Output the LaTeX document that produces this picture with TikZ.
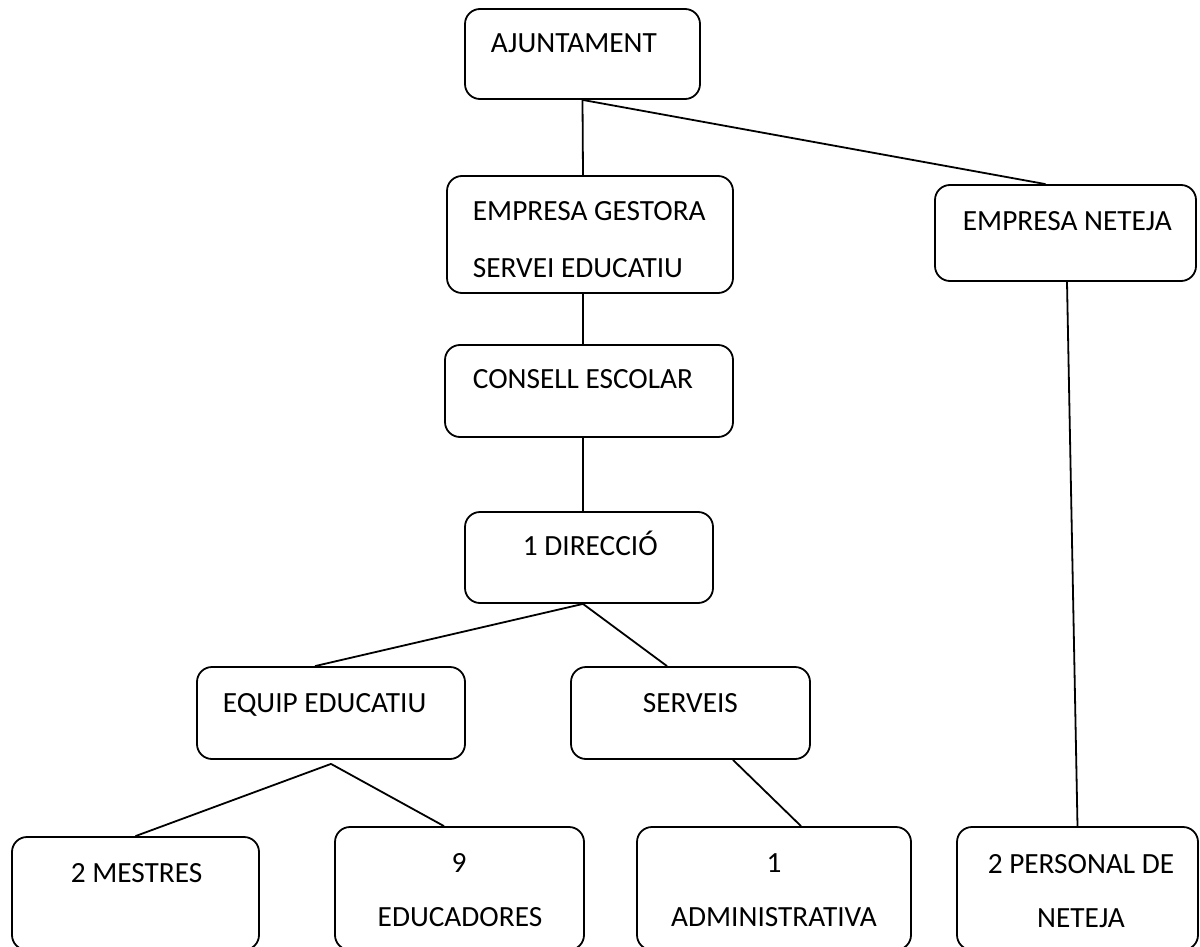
\documentclass[tikz,border=0pt]{standalone}
\usepackage{fontspec}
\setmainfont{Carlito}
\usepackage{tikz}

\begin{document}
\begin{tikzpicture}[x=1pt, y=-1pt, line width=1.8pt,
    box/.style={draw, shape=rectangle, rounded corners=15pt, inner sep=0pt},
    txt/.style={inner sep=0pt, font=\fontsize{29.3}{35}\selectfont}]
    \useasboundingbox (0,0) rectangle (1200,947);
    \node(ajunt)[box, minimum width=235pt, minimum height=90pt] at (582.5,54) {};
    \node(gestora)[box, minimum width=286pt, minimum height=117pt] at (590,234.5) {};
    \node(neteja_e)[box, minimum width=261pt, minimum height=96pt] at (1065.5,233) {};
    \node(consell)[box, minimum width=288pt, minimum height=92pt] at (589,391) {};
    \node(direccio)[box, minimum width=248pt, minimum height=91pt] at (589,557.5) {};
    \node(equip)[box, minimum width=268pt, minimum height=92pt] at (331,713) {};
    \node(serveis)[box, minimum width=239pt, minimum height=92pt] at (690.5,713) {};
    \node(mestres)[box, minimum width=247pt, minimum height=113pt] at (135.5,893.5) {};
    \node(educ)[box, minimum width=249pt, minimum height=123pt] at (459.5,888.5) {};
    \node(admin)[box, minimum width=274pt, minimum height=123pt] at (774,888.5) {};
    \node(neteja_p)[box, minimum width=241pt, minimum height=123pt] at (1077.5,888.5) {};
    \node(ajunt_t)[txt, anchor=base west] at (490,53) {AJUNTAMENT};
    \node(gestora_t1)[txt, anchor=base west] at (472,220) {EMPRESA GESTORA};
    \node(gestora_t2)[txt, anchor=base west] at (472,277) {SERVEI EDUCATIU};
    \node(neteja_e_t)[txt, anchor=base west] at (962,230) {EMPRESA NETEJA};
    \node(consell_t)[txt, anchor=base west] at (472,388) {CONSELL ESCOLAR};
    \node(direccio_t)[txt, anchor=base west] at (522,555) {1 DIRECCIÓ};
    \node(equip_t)[txt, anchor=base west] at (222,712) {EQUIP EDUCATIU};
    \node(serveis_t)[txt, anchor=base west] at (642,712) {SERVEIS};
    \node(mestres_t)[txt, anchor=base west] at (70,882) {2 MESTRES};
    \node(educ_t1)[txt, anchor=base] at (459,872) {9};
    \node(educ_t2)[txt, anchor=base] at (460,926) {EDUCADORES};
    \node(admin_t1)[txt, anchor=base] at (774,872) {1};
    \node(admin_t2)[txt, anchor=base] at (774,926) {ADMINISTRATIVA};
    \node(neteja_p_t1)[txt, anchor=base] at (1081,873) {2 PERSONAL DE};
    \node(neteja_p_t2)[txt, anchor=base] at (1081,927) {NETEJA};
    \draw (ajunt.south) -- ([xshift=-7pt]gestora.north);
    \draw (ajunt.south) -- ([xshift=-20pt]neteja_e.north);
    \draw ([xshift=-7pt]gestora.south) -- ([xshift=-6pt]consell.north);
    \draw ([xshift=-6pt]consell.south) -- ([xshift=-6pt]direccio.north);
    \draw ([xshift=-6pt]direccio.south) -- ([xshift=-16pt]equip.north);
    \draw ([xshift=-6pt]direccio.south) -- ([xshift=-23.5pt]serveis.north);
    \draw ([yshift=-4pt]equip.south) -- (mestres.north);
    \draw ([yshift=-4pt]equip.south) -- ([xshift=-15.5pt]educ.north);
    \draw ([xshift=42.5pt]serveis.south) -- ([xshift=27pt]admin.north);
    \draw ([xshift=1.5pt]neteja_e.south) -- (neteja_p.north);
\end{tikzpicture}
\end{document}
